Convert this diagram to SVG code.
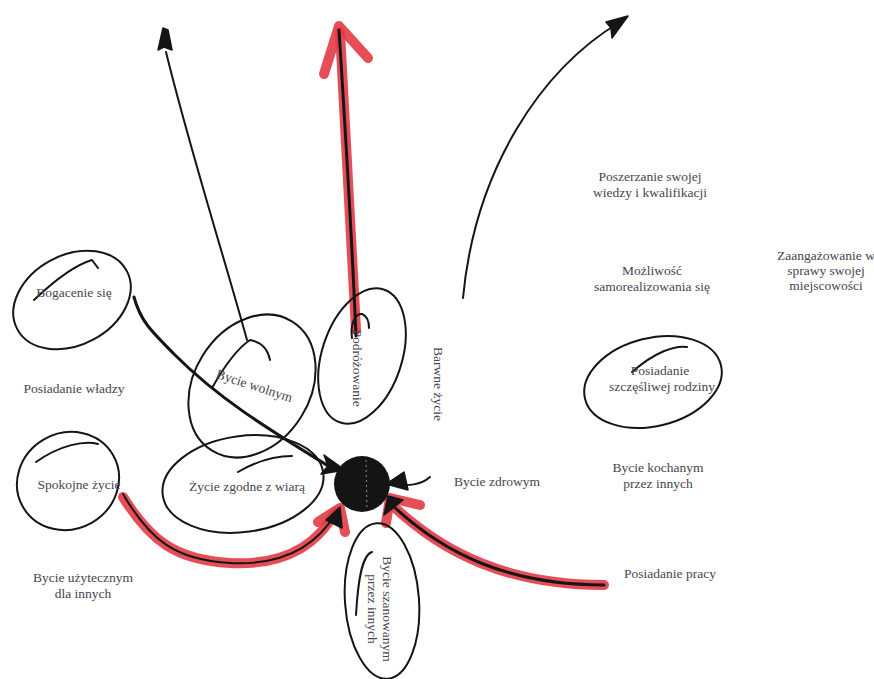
<svg xmlns="http://www.w3.org/2000/svg" width="874" height="679" viewBox="0 0 874 679">
<style>
text{font-family:"Liberation Serif","DejaVu Serif","Times New Roman",serif;font-size:13.5px;fill:#45454f;text-anchor:middle}
.ink{fill:none;stroke:#151515;stroke-width:2;stroke-linecap:round;stroke-linejoin:round}
.thick{fill:none;stroke:#151515;stroke-width:3;stroke-linecap:round;stroke-linejoin:round}
.red{fill:none;stroke:#e23b44;stroke-width:10;stroke-linecap:round;stroke-linejoin:round;opacity:0.9}
.head{fill:#151515;stroke:#151515;stroke-width:1.5;stroke-linejoin:round}
</style>
<rect width="874" height="679" fill="#ffffff"/>

<g id="connectors">
  <path class="ink" d="M247,340 C225,260 190,150 166,52"/>
  <path class="head" d="M158,50 L163,28 L168,30 L172,50 L164,47 Z"/>
  <path class="red" d="M356,330 C352,240 346,140 340,32"/>
  <path class="red" d="M324,74 L339,26 L368,58"/>
  <path class="thick" d="M356,336 C352,240 346,140 339,30"/>
  <path class="ink" d="M463,298 C475,170 540,70 620,22"/>
  <path class="head" d="M628,16 L606,22 L611,28 L612,38 Z"/>
  <path class="thick" d="M134,297 C140,320 150,330 175,355 C220,400 270,430 330,467"/>
  <path class="head" d="M324,455 L345,470 L321,474 L328,466 Z"/>
  <path class="red" d="M123,497 C150,540 175,560 230,563 C290,566 320,540 335,512"/>
  <path class="red" d="M318,522 L340,508 L345,532"/>
  <path class="ink" d="M123,494 C150,540 175,560 230,563 C290,566 320,540 336,513"/>
  <path class="head" d="M326,520 L340,507 L342,528 Z"/>
  <path class="red" d="M604,585 C510,585 445,555 392,505"/>
  <path class="red" d="M386,523 L390,498 L420,505"/>
  <path class="thick" d="M604,585 C510,585 445,555 392,505"/>
  <path class="head" d="M384,515 L388,496 L403,500 Z"/>
  <path class="ink" d="M430,477 C420,486 405,486 395,484"/>
  <path class="head" d="M386,484 L404,472 L408,490 Z"/>
</g>

<g id="center">
  <circle cx="362" cy="484" r="28" fill="#141414"/>
  <path d="M366,460 L367,508" stroke="#aaaaaa" stroke-width="0.8" stroke-dasharray="2 3"/>
</g>

<g id="bogacenie">
  <ellipse class="ink" cx="72" cy="300" rx="62" ry="45" transform="rotate(-28 72 300)"/>
  <path class="ink" d="M34,300 C55,280 75,265 92,260 L98,268"/>
  <text x="74" y="297">Bogacenie się</text>
</g>

<g id="wladza">
  <text x="74" y="393">Posiadanie władzy</text>
</g>

<g id="spokojne">
  <ellipse class="ink" cx="68" cy="481" rx="52" ry="48" transform="rotate(-30 68 481)"/>
  <path class="ink" d="M36,462 C60,445 85,440 98,444"/>
  <text x="79" y="489">Spokojne życie</text>
</g>

<g id="uzyteczny">
  <text x="83" y="582">Bycie użytecznym</text>
  <text x="83" y="598">dla innych</text>
</g>

<g id="wolny">
  <ellipse class="ink" cx="252" cy="386" rx="76" ry="58" transform="rotate(-58 252 386)"/>
  <path class="ink" d="M212,388 C225,365 238,348 250,340 C262,342 268,350 270,360"/>
  <text x="253" y="390" transform="rotate(18 253 390)">Bycie wolnym</text>
</g>

<g id="podrozowanie">
  <ellipse class="ink" cx="362" cy="356" rx="40" ry="70" transform="rotate(18 362 356)"/>
  <path class="ink" d="M352,338 C350,325 355,313 362,314 C367,316 369,322 369,328"/>
  <text x="0" y="0" transform="translate(353,368) rotate(90)">Podróżowanie</text>
</g>

<g id="barwne">
  <text x="0" y="0" transform="translate(434,384) rotate(90)">Barwne życie</text>
</g>

<g id="wiara">
  <ellipse class="ink" cx="243" cy="484" rx="81" ry="48" transform="rotate(-8 243 484)"/>
  <path class="ink" d="M238,472 C255,462 275,456 292,456"/>
  <text x="247" y="491">Życie zgodne z wiarą</text>
</g>

<g id="zdrowy">
  <text x="497" y="486">Bycie zdrowym</text>
</g>

<g id="szanowany">
  <ellipse class="ink" cx="382" cy="601" rx="37" ry="78" transform="rotate(-4 382 601)"/>
  <path class="ink" d="M372,552 C362,555 358,580 356,615"/>
  <text x="0" y="0" transform="translate(383,609) rotate(90)">Bycie szanowanym</text>
  <text x="0" y="0" transform="translate(368,609) rotate(90)">przez innych</text>
</g>

<g id="praca">
  <text x="670" y="578">Posiadanie pracy</text>
</g>

<g id="kochany">
  <text x="658" y="472">Bycie kochanym</text>
  <text x="658" y="488">przez innych</text>
</g>

<g id="rodzina">
  <ellipse class="ink" cx="653" cy="382" rx="70" ry="44" transform="rotate(-14 653 382)"/>
  <path class="ink" d="M632,372 C655,352 675,345 687,347"/>
  <text x="660" y="375">Posiadanie</text>
  <text x="662" y="391">szczęśliwej rodziny</text>
</g>

<g id="wiedza">
  <text x="650" y="181">Poszerzanie swojej</text>
  <text x="650" y="197">wiedzy i kwalifikacji</text>
</g>

<g id="samorealizacja">
  <text x="652" y="275">Możliwość</text>
  <text x="652" y="291">samorealizowania się</text>
</g>

<g id="miejscowosc">
  <text x="826" y="260">Zaangażowanie w</text>
  <text x="826" y="275">sprawy swojej</text>
  <text x="826" y="290">miejscowości</text>
</g>
</svg>
